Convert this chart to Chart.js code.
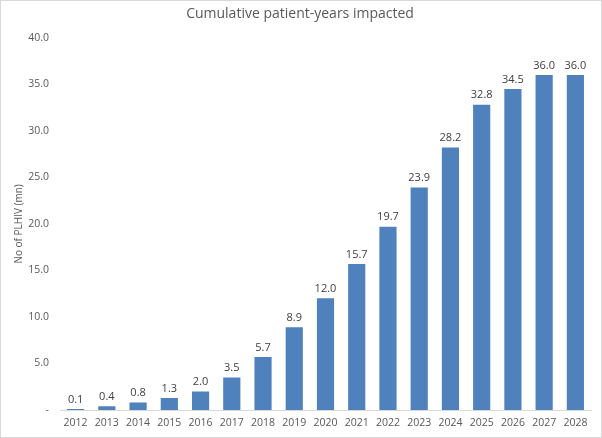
<!DOCTYPE html>
<html>
<head>
<meta charset="utf-8">
<script src="https://cdn.jsdelivr.net/npm/chart.js@4/dist/chart.umd.min.js"></script>
<style>
  html, body { margin: 0; padding: 0; background: #fff; }
  #wrap { position: relative; width: 602px; height: 438px; box-sizing: border-box; border: 1px solid #d9d9d9; }
</style>
</head>
<body>
<div id="wrap"><canvas id="chart"></canvas></div>
<script>
const years = ["2012", "2013", "2014", "2015", "2016", "2017", "2018", "2019", "2020",
  "2021", "2022", "2023", "2024", "2025", "2026", "2027", "2028"];
const patientYears = [0.1, 0.4, 0.8, 1.3, 2.0, 3.5, 5.7, 8.9, 12.0,
  15.7, 19.7, 23.9, 28.2, 32.8, 34.5, 36.0, 36.0];

const fontFamily = "'Open Sans', 'Noto Sans', sans-serif";

// draws the value above each bar
const valueLabels = {
  id: "valueLabels",
  afterDatasetsDraw(chart) {
    const ctx = chart.ctx;
    const meta = chart.getDatasetMeta(0);
    ctx.save();
    ctx.font = "11px " + fontFamily;
    ctx.fillStyle = "#404040";
    ctx.textAlign = "center";
    ctx.textBaseline = "bottom";
    meta.data.forEach((bar, i) => {
      ctx.fillText(patientYears[i].toFixed(1), bar.x, bar.y - 4);
    });
    ctx.restore();
  },
};

new Chart(document.getElementById("chart"), {
  type: "bar",
  data: {
    labels: years,
    datasets: [
      {
        label: "Cumulative patient-years",
        data: patientYears,
        backgroundColor: "#4f81bd",
        borderWidth: 0,
        barPercentage: 0.55,
        categoryPercentage: 1,
      },
    ],
  },
  options: {
    responsive: true,
    maintainAspectRatio: false,
    animation: false,
    layout: { padding: { left: 8, right: 10, top: 0, bottom: 2 } },
    plugins: {
      legend: { display: false },
      tooltip: { enabled: false },
      title: {
        display: true,
        text: "Cumulative patient-years impacted",
        color: "#595959",
        font: { family: fontFamily, size: 14, weight: "normal" },
        padding: { top: 5, bottom: 15 },
      },
    },
    scales: {
      x: {
        grid: { display: false, drawTicks: false },
        border: { display: true, color: "#d9d9d9" },
        ticks: {
          color: "#595959",
          font: { family: fontFamily, size: 10.5 },
          padding: 7,
          maxRotation: 0,
          minRotation: 0,
          autoSkip: false,
        },
        afterFit: (scale) => { scale.height = 25; },
      },
      y: {
        min: 0,
        max: 40,
        grid: { display: false, drawTicks: false },
        border: { display: false },
        ticks: {
          stepSize: 5,
          color: "#595959",
          font: { family: fontFamily, size: 10.5 },
          padding: 11,
          callback: (v) => (v === 0 ? "-" : v.toFixed(1)),
        },
        title: {
          display: true,
          text: "No of PLHIV (mn)",
          color: "#595959",
          font: { family: fontFamily, size: 10 },
        },
        afterFit: (scale) => { scale.width = 51; },
      },
    },
  },
  plugins: [valueLabels],
});
</script>
</body>
</html>
